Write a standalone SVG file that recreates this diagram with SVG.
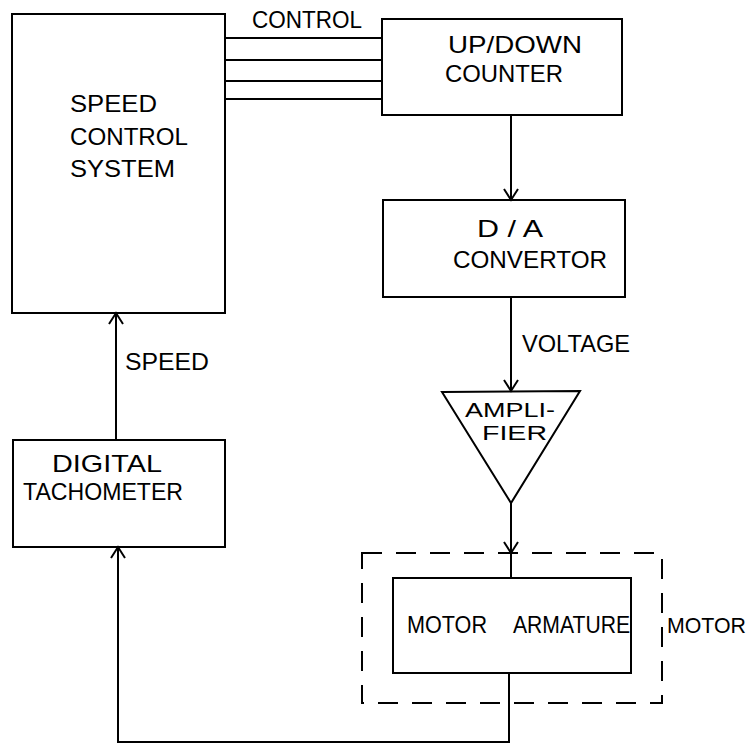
<svg xmlns="http://www.w3.org/2000/svg" width="753" height="745" viewBox="0 0 753 745">
<style>
.box{fill:none;stroke:#000;stroke-width:2}
.ln{fill:none;stroke:#000;stroke-width:2}
.dash{fill:none;stroke:#000;stroke-width:2;stroke-dasharray:20 14}
text{font-family:"Liberation Sans",Arial,sans-serif;font-size:24px;fill:#000}
.sm{font-size:20px}
.md{font-size:22px}
</style>
<defs>
<marker id="arr" markerUnits="userSpaceOnUse" markerWidth="20" markerHeight="20" refX="12" refY="8" orient="auto">
<path d="M1,1 L12,8 L1,15" fill="none" stroke="#000" stroke-width="2"/>
</marker>
</defs>
<rect width="753" height="745" fill="#fff"/>
<g id="speed-control">
<rect class="box" x="12" y="14" width="213" height="299"/>
<text x="70" y="112" textLength="87" lengthAdjust="spacingAndGlyphs">SPEED</text>
<text x="70" y="145" textLength="118" lengthAdjust="spacingAndGlyphs">CONTROL</text>
<text x="70" y="177" textLength="105" lengthAdjust="spacingAndGlyphs">SYSTEM</text>
</g>
<g id="counter">
<rect class="box" x="382" y="19" width="240" height="96"/>
<text x="448" y="53" textLength="134" lengthAdjust="spacingAndGlyphs">UP/DOWN</text>
<text x="445" y="82" textLength="118" lengthAdjust="spacingAndGlyphs">COUNTER</text>
</g>
<g id="dac">
<rect class="box" x="383" y="200" width="242" height="97"/>
<text x="477" y="237" textLength="66" lengthAdjust="spacingAndGlyphs">D / A</text>
<text x="453" y="268" textLength="154" lengthAdjust="spacingAndGlyphs">CONVERTOR</text>
</g>
<g id="amplifier">
<polygon class="box" points="442,392 580,391 511,503"/>
<text class="sm" x="465" y="417" textLength="90" lengthAdjust="spacingAndGlyphs">AMPLI-</text>
<text class="sm" x="482" y="440" textLength="65" lengthAdjust="spacingAndGlyphs">FIER</text>
</g>
<g id="motor">
<rect class="dash" x="362" y="553" width="300" height="150"/>
<text class="md" x="667" y="633" textLength="79" lengthAdjust="spacingAndGlyphs">MOTOR</text>
</g>
<g id="armature">
<rect class="box" x="393" y="578" width="238" height="95"/>
<text x="407" y="633" textLength="80" lengthAdjust="spacingAndGlyphs">MOTOR</text>
<text x="513" y="633" textLength="117" lengthAdjust="spacingAndGlyphs">ARMATURE</text>
</g>
<g id="tachometer">
<rect class="box" x="13" y="440" width="212" height="107"/>
<text x="52" y="472" textLength="110" lengthAdjust="spacingAndGlyphs">DIGITAL</text>
<text x="23" y="500" textLength="160" lengthAdjust="spacingAndGlyphs">TACHOMETER</text>
</g>
<g id="connectors">
<line class="ln" x1="225" y1="38" x2="381" y2="38"/>
<line class="ln" x1="225" y1="60" x2="381" y2="60"/>
<line class="ln" x1="225" y1="81" x2="381" y2="81"/>
<line class="ln" x1="225" y1="99" x2="381" y2="99"/>
<text x="252" y="28" textLength="110" lengthAdjust="spacingAndGlyphs">CONTROL</text>
<line class="ln" x1="511" y1="115" x2="511" y2="200" marker-end="url(#arr)"/>
<line class="ln" x1="511" y1="297" x2="511" y2="391" marker-end="url(#arr)"/>
<text x="522" y="352" textLength="108" lengthAdjust="spacingAndGlyphs">VOLTAGE</text>
<line class="ln" x1="511" y1="503" x2="511" y2="553" marker-end="url(#arr)"/>
<line class="ln" x1="511" y1="553" x2="511" y2="578"/>
<polyline class="ln" points="509,673 509,742 118,742 118,547" marker-end="url(#arr)"/>
<line class="ln" x1="116" y1="440" x2="116" y2="313" marker-end="url(#arr)"/>
<text x="125" y="370" textLength="84" lengthAdjust="spacingAndGlyphs">SPEED</text>
</g>
</svg>
